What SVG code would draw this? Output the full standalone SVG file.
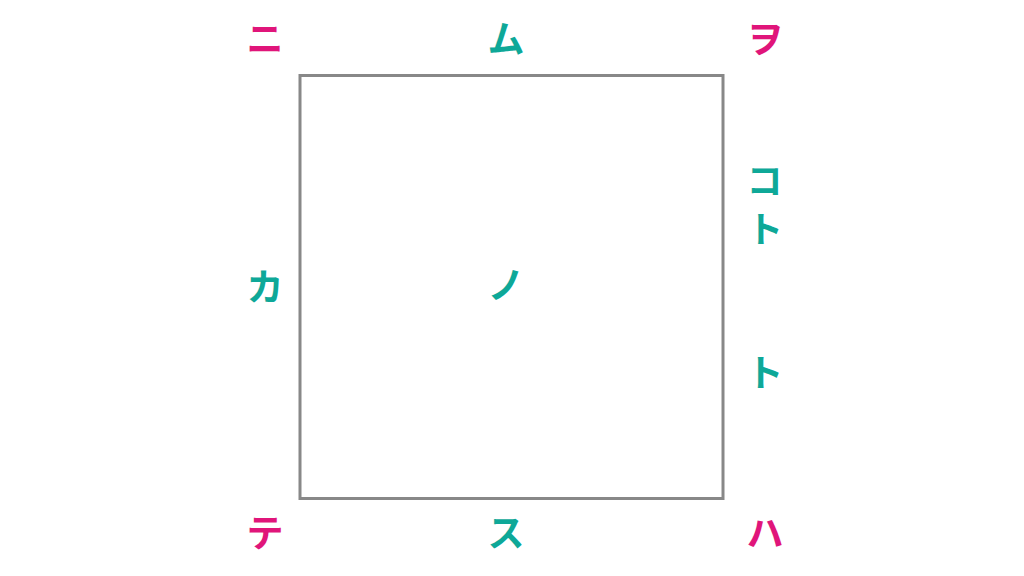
<svg xmlns="http://www.w3.org/2000/svg" width="1024" height="576" viewBox="0 0 1024 576">
<style>
text{font-family:"Noto Sans CJK JP","Noto Sans CJK SC",sans-serif;font-weight:bold;font-size:37px;text-anchor:middle;dominant-baseline:central}
.c{fill:#e0157a}
.e{fill:#0ea898}
.v{writing-mode:vertical-rl;text-anchor:start;letter-spacing:11px}
</style>
<rect width="1024" height="576" fill="#fff"/>
<g id="square"><rect x="300" y="75.5" width="423" height="423" fill="none" stroke="#888" stroke-width="3"/><text class="e" x="506" y="283">ノ</text></g>
<g id="corner-tl"><text class="c" x="265" y="37">ニ</text></g>
<g id="corner-tr"><text class="c" x="765" y="37">ヲ</text></g>
<g id="corner-bl"><text class="c" x="265" y="531">テ</text></g>
<g id="corner-br"><text class="c" x="765" y="531">ハ</text></g>
<g id="edge-top"><text class="e" x="506" y="37">ム</text></g>
<g id="edge-bottom"><text class="e" x="506" y="531">ス</text></g>
<g id="edge-left"><text class="e" x="265" y="285">カ</text></g>
<g id="edge-right1"><text class="e v" x="765" y="162">コト</text></g>
<g id="edge-right2"><text class="e" x="765" y="371">ト</text></g>
</svg>
